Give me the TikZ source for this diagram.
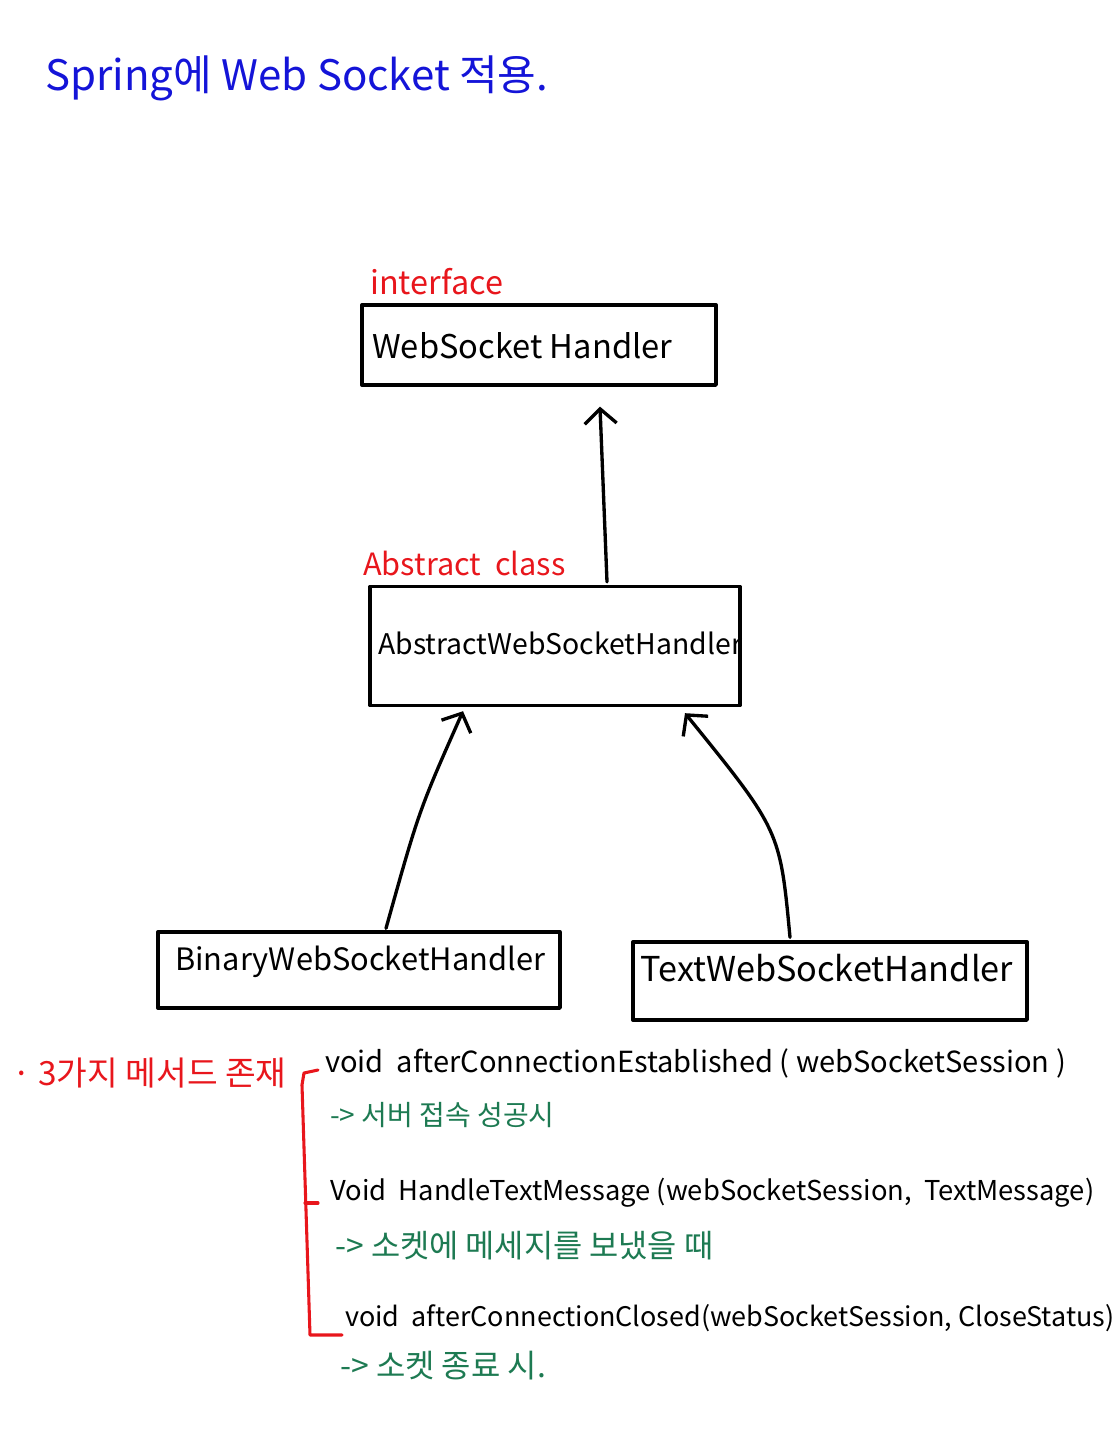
\documentclass[tikz,border=0pt]{standalone}
\usepackage{fontspec}
\setmainfont{Noto Sans CJK KR}
\usetikzlibrary{arrows.meta,calc}
\definecolor{hblue}{HTML}{1414D8}
\definecolor{hred}{HTML}{E8161C}
\definecolor{hgreen}{HTML}{1D7A52}
\begin{document}
\begin{tikzpicture}[x=0.75pt,y=-0.75pt,
  boxst/.style={draw=black,line width=2.5pt,line join=round,inner sep=0pt},
  lbl/.style={anchor=west,inner sep=0pt},
  inh/.style={line width=2.5pt,line cap=round,-{Straight Barb[length=11pt,width=24pt,line width=2.5pt]}},
  brk/.style={draw=hred,line width=2.3pt,line cap=round,line join=round}]
\useasboundingbox (0,0) rectangle (1116,1440);
% title
\node[lbl,text=hblue,font=\fontsize{31.5}{38}\selectfont] (title) at (45,78) {Spring에 Web Socket 적용.};
% boxes
\node[boxst,minimum width=354*0.75pt,minimum height=80*0.75pt] (b1) at (539,345) {};
\node[boxst,minimum width=370*0.75pt,minimum height=119*0.75pt] (b2) at (555,646) {};
\node[boxst,minimum width=402*0.75pt,minimum height=76*0.75pt] (b3) at (359,970) {};
\node[boxst,minimum width=394*0.75pt,minimum height=78*0.75pt] (b4) at (830,981) {};
% stereotypes
\node[lbl,text=hred,font=\fontsize{24.3}{28}\selectfont] (st1) at (370,282) {interface};
\node[lbl,text=hred,font=\fontsize{23}{28}\selectfont] (st2) at (363,563) {Abstract\ \ class};
% box texts
\node[lbl,font=\fontsize{24.5}{30}\selectfont] (t1) at (372,346) {WebSocket Handler};
\node[lbl,font=\fontsize{21.3}{26}\selectfont] (t2) at (378,643) {AbstractWebSocketHandler};
\node[lbl,font=\fontsize{23.1}{28}\selectfont] (t3) at (175,962) {BinaryWebSocketHandler};
\node[lbl,font=\fontsize{25.7}{30}\selectfont] (t4) at (640,968) {TextWebSocketHandler};
% inheritance arrows
\draw[inh] ($(b2.north)+(52,-3)$) -- ($(b1.south)+(61,20)$);
\draw[inh] ($(b3.north)+(27,-2)$) .. controls ($(b3.north)+(60,-120)$) .. ($(b2.south)+(-92,4)$);
\draw[inh] ($(b4.north)+(-40,-3)$) .. controls ($(b4.north)+(-50,-110)$) .. ($(b2.south)+(130,6)$);
% methods
\node[lbl,text=hred,font=\fontsize{25}{30}\selectfont] (m0) at (12,1073) {· 3가지 메서드 존재};
\node[lbl,font=\fontsize{21.8}{26}\selectfont] (m1) at (325,1063) {void\ \ afterConnectionEstablished ( webSocketSession )};
\node[lbl,text=hgreen,font=\fontsize{21}{26}\selectfont] (g1) at (330,1115) {-> 서버 접속 성공시};
\node[lbl,font=\fontsize{20.5}{26}\selectfont] (m2) at (330,1193) {Void\ \ HandleTextMessage (webSocketSession,\ \ TextMessage)};
\node[lbl,text=hgreen,font=\fontsize{23.8}{28}\selectfont] (g2) at (335,1246) {-> 소켓에 메세지를 보냈을 때};
\node[lbl,font=\fontsize{20.2}{26}\selectfont] (m3) at (345,1318) {void\ \ afterConnectionClosed(webSocketSession, CloseStatus)};
\node[lbl,text=hgreen,font=\fontsize{23.9}{28}\selectfont] (g3) at (340,1366) {-> 소켓 종료 시.};
% bracket
\coordinate (k1) at (318,1070);
\coordinate (k2) at (318,1203);
\coordinate (k3) at (342,1335);
\draw[brk] (k1) -- (304,1073) -- (302,1085) -- (310,1335) -- (k3);
\draw[brk] (305,1203) -- (k2);
\end{tikzpicture}
\end{document}
